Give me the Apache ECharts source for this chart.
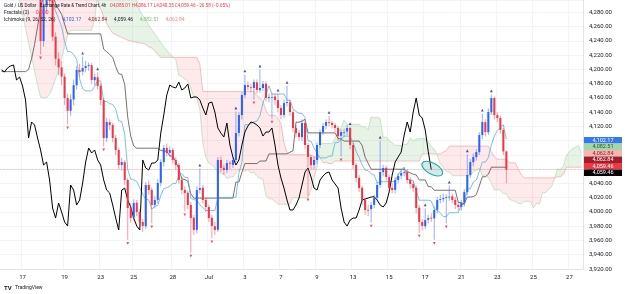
<!DOCTYPE html>
<html>
<head>
<meta charset="utf-8">
<script src="https://cdn.jsdelivr.net/npm/echarts@6/dist/echarts.min.js"></script>
<style>
html, body { margin: 0; padding: 0; background: #fff; }
#chart { width: 625px; height: 294px; }
</style>
</head>
<body>
<div id="chart"></div>
<script>
// 4h bars, one category slot per bar (194 slots incl. 25 future slots for the cloud)
var slotCount = 194;
var candleStart = 12; // first bar inside the visible price range

var opens = [
    4335, 4310, 4240, 4290, 4312, 4300, 4246, 4215, 4203, 4190, 4160, 4142, 4158,
    4178, 4199, 4197, 4202, 4205, 4206, 4185, 4189, 4177, 4157,
    4104, 4126, 4122, 4104, 4087, 4066, 4070, 4045, 4006, 3992,
    4013, 4000, 3986, 3980, 4038, 4031, 4010, 4017, 4041, 4070,
    4090, 4083, 4087, 4073, 4066, 4045, 4031, 4027, 4010, 3992,
    3975, 4031, 4034, 4017, 4007, 3992, 3980, 3975, 4073, 4062,
    4059, 4069, 4066, 4073, 4111, 4136, 4164, 4178, 4175, 4174,
    4182, 4171, 4174, 4180, 4160, 4161, 4162, 4157, 4146, 4136,
    4153, 4154, 4140, 4118, 4111, 4105, 4125, 4094, 4077, 4066,
    4073, 4094, 4112, 4121, 4126, 4125, 4122, 4118, 4107, 4112,
    4113, 4118, 4094, 4066, 4048, 4034, 4017, 4003, 4004, 4010,
    4020, 4038, 4056, 4062, 4049, 4034, 4031, 4045, 4051, 4055,
    4056, 4045, 4039, 4034, 4006, 3986, 3980, 3989, 3992, 3991,
    4003, 4017, 4018, 4020, 4021, 4022, 4017, 4010, 4007, 4013,
    4028, 4052, 4070, 4077, 4084, 4108, 4126, 4112, 4140, 4160,
    4136, 4132, 4115, 4085.01
];
var closes = [
    4310, 4240, 4290, 4312, 4296, 4246, 4215, 4203, 4190, 4160, 4142, 4158, 4178,
    4199.3, 4196.5, 4202.1, 4204.9, 4206.3, 4185.2, 4189.4, 4176.8, 4157.2, 4103.8,
    4126.3, 4122.1, 4103.8, 4087.0, 4065.9, 4070.1, 4044.9, 4005.6, 3991.5, 4012.6,
    4000.0, 3985.9, 3980.3, 4037.8, 4030.8, 4009.8, 4016.8, 4040.7, 4070.1, 4089.8,
    4082.8, 4087.0, 4073.0, 4065.9, 4044.9, 4030.8, 4026.6, 4009.8, 3991.5, 3974.7,
    4030.8, 4033.6, 4016.8, 4007.0, 3991.5, 3980.3, 3974.7, 4073.0, 4061.7, 4058.9,
    4068.7, 4068.7, 4073.0, 4110.8, 4136.1, 4164.2, 4178.2, 4175.4, 4174.0, 4182.4,
    4171.2, 4174.0, 4179.6, 4160.0, 4161.4, 4161.4, 4157.2, 4145.9, 4136.1, 4152.9,
    4154.3, 4140.3, 4117.9, 4110.8, 4105.2, 4124.9, 4094.0, 4077.2, 4065.9, 4073.0,
    4094.0, 4112.2, 4120.7, 4126.3, 4124.9, 4122.1, 4117.9, 4106.6, 4112.2, 4112.2,
    4117.9, 4094.0, 4065.9, 4047.7, 4033.6, 4016.8, 4002.8, 4002.8, 4009.8, 4019.6,
    4037.9, 4056.1, 4061.7, 4049.1, 4033.6, 4030.8, 4044.9, 4050.5, 4054.7, 4056.1,
    4044.9, 4039.3, 4033.6, 4005.6, 3985.9, 3980.3, 3988.7, 3991.5, 3991.5, 4002.8,
    4016.8, 4018.2, 4019.6, 4021.0, 4021.5, 4016.8, 4009.8, 4007.0, 4012.6, 4028.0,
    4051.9, 4070.1, 4077.2, 4084.2, 4108.0, 4126.3, 4112.2, 4140.3, 4160.0, 4136.1,
    4131.9, 4115.1, 4085.0, 4059.46
];
var highs = [
    4342, 4318, 4300, 4328, 4320, 4305, 4252, 4224, 4212, 4194, 4166, 4165, 4186,
    4205, 4208, 4218, 4212, 4210, 4209, 4194, 4196, 4180, 4160,
    4132, 4130, 4125, 4108, 4090, 4076, 4073, 4048, 4012, 4018,
    4017, 4004, 3990, 4042, 4044, 4034, 4022, 4046, 4074, 4094,
    4096, 4092, 4090, 4077, 4069, 4049, 4036, 4030, 4014, 3996,
    4036, 4061, 4038, 4020, 4010, 3996, 3986, 4077, 4078, 4066,
    4073, 4072, 4077, 4141, 4140, 4168, 4193, 4183, 4180, 4186,
    4186, 4200, 4184, 4183, 4166, 4166, 4166, 4166, 4150, 4158,
    4177, 4158, 4143, 4122, 4115, 4130, 4128, 4097, 4080, 4078,
    4098, 4116, 4125, 4130, 4135, 4128, 4125, 4121, 4116, 4117,
    4122, 4119, 4097, 4069, 4052, 4037, 4020, 4010, 4014, 4024,
    4042, 4100, 4066, 4065, 4052, 4040, 4049, 4055, 4060, 4062,
    4060, 4049, 4043, 4037, 4010, 3990, 4005, 3996, 3998, 4008,
    4021, 4024, 4026, 4025, 4037, 4026, 4021, 4014, 4017, 4032,
    4081, 4074, 4082, 4088, 4112, 4138, 4130, 4145, 4165, 4162,
    4140, 4135, 4118, 4086.17
];
var lows = [
    4302, 4221, 4232, 4282, 4288, 4240, 4206, 4192, 4178, 4150, 4123, 4135, 4150,
    4172, 4190, 4192, 4196, 4198, 4180, 4178, 4172, 4150, 4092,
    4098, 4115, 4098, 4080, 4060, 4058, 4038, 3961, 3985, 3988,
    3994, 3979, 3972, 3976, 4024, 3984, 4005, 4012, 4036, 4064,
    4078, 4078, 4068, 4060, 4040, 4025, 4001, 4004, 3943, 3968,
    3970, 4026, 4012, 4000, 3986, 3963, 3968, 3972, 4056, 4052,
    4055, 4060, 4062, 4070, 4106, 4130, 4160, 4170, 4168, 4158,
    4166, 4167, 4170, 4155, 4154, 4131, 4150, 4140, 4130, 4132,
    4148, 4135, 4112, 4105, 4100, 4100, 4088, 4022, 4060, 4060,
    4068, 4090, 4108, 4116, 4120, 4117, 4112, 4100, 4078, 4106,
    4108, 4088, 4060, 4042, 4028, 4010, 3996, 3994, 3985, 4005,
    4016, 4034, 4050, 4044, 4028, 4026, 4026, 4040, 4046, 4050,
    4040, 4033, 4028, 3998, 3971, 3974, 3976, 3984, 3986, 3961,
    3998, 4012, 4014, 3984, 4016, 4012, 4004, 4002, 4002, 4008,
    4024, 4048, 4064, 4072, 4080, 4102, 4106, 4108, 4136, 4130,
    4126, 4110, 4080, 4040.35
];

// Ichimoku (9, 26, 52, 26), read slot by slot
var tenkan = [
    4330, 4330, 4330, 4330, 4330, 4330, 4330, 4330, 4330, 4330, 4330, 4330,
    4340, 4299, 4299, 4299, 4299, 4293, 4282, 4271, 4260, 4239, 4225, 4225, 4221, 4214, 4187, 4173,
    4170, 4170, 4170, 4176, 4184, 4184, 4155, 4155, 4152, 4151, 4144.5, 4128, 4127, 4109,
    4060, 4046, 4045, 4043, 4034, 4025, 4018, 4017, 4004, 4008, 4009, 4023, 4033, 4034,
    4036, 4040, 4040, 4050.5, 4054, 4048.5, 4048.5, 4019.5, 4017.5, 4016.5, 4010, 4006,
    4002, 4002, 4002, 4002, 4020, 4020.5, 4020.5, 4020.5, 4020.5, 4020.5, 4020.5,
    4054.5, 4070, 4122.5, 4122.5, 4124, 4126.5, 4127.5, 4135, 4153, 4165, 4177,
    4165.5, 4165.5, 4165.5, 4165.5, 4165.5, 4157, 4156.5, 4144.5, 4141, 4138.5, 4138.5,
    4132.5, 4099.5, 4099.5, 4090, 4082.5, 4076, 4076, 4076, 4078.5, 4078.5,
    4097.5, 4097.5, 4101.5, 4106.5, 4106.5, 4106.5, 4097.5, 4085, 4076.5, 4066,
    4059, 4058, 4053.5, 4052, 4041, 4042.5, 4042.5, 4042.5, 4042.5, 4042.5, 4042.5,
    4052.5, 4058, 4063, 4046, 4045.5, 4044, 4030, 4016.5, 4016.5, 4016.5, 4016.5,
    4015.5, 4005, 4002, 3999, 3993.5, 3993.5, 3999, 3999, 3999, 3999,
    4010.5, 4010.5, 4032.5, 4032.5, 4042, 4045, 4057, 4070, 4070, 4076.5,
    4094.5, 4106.5, 4114.5, 4118.5, 4122.5, 4102.17
];
var kijun = [
    4197, 4197, 4197, 4197, 4197, 4197, 4197, 4197, 4197,
    4200, 4215, 4235, 4260, 4285, 4305, 4320, 4320, 4308, 4291.5, 4284.5, 4277.5, 4263.5,
    4250, 4250, 4250, 4250, 4250, 4250, 4250, 4250, 4250, 4250, 4250, 4250,
    4228.5, 4225, 4221, 4217, 4204, 4194, 4193, 4179, 4133, 4106.5, 4092.5,
    4089.5, 4089.5, 4089.5, 4089.5, 4089.5, 4089.5, 4089.5, 4089.5,
    4086.5, 4085.5, 4085, 4078.5, 4078.5, 4070.5, 4060.5, 4046.5, 4045.5, 4043, 4025.5,
    4019.5, 4019.5, 4019.5, 4019.5, 4019.5, 4019.5, 4019.5, 4019.5, 4019.5, 4019.5,
    4019.5, 4019.5, 4019.5, 4019.5,
    4042, 4042, 4055.5, 4068, 4068, 4068, 4068, 4068, 4071.5, 4071.5, 4071.5,
    4081.5, 4081.5, 4081.5, 4081.5, 4081.5, 4081.5, 4081.5,
    4084, 4086, 4126, 4126, 4127.5, 4130,
    4111, 4111, 4111, 4111, 4111, 4111, 4111, 4111, 4111, 4111,
    4103, 4102.5, 4099.5, 4099.5, 4099.5, 4099.5, 4099.5, 4099.5,
    4093.5, 4077, 4068.5,
    4060, 4060, 4060, 4060, 4060, 4060, 4060, 4060, 4060, 4060, 4060, 4060,
    4056.5, 4055, 4053, 4052, 4045, 4045, 4045, 4035.5, 4035.5,
    4030.5, 4030.5, 4030.5, 4030.5, 4030.5, 4030.5, 4030.5, 4030.5,
    4013.5, 4013, 4011.5, 4021, 4021, 4021.5, 4024.5, 4036.5, 4049.5, 4049.5, 4053,
    4062.84, 4062.84, 4062.84, 4062.84, 4062.84, 4062.84
];
// leading spans, already shifted forward onto their slots
var spanA = [
    4320, 4320, 4320, 4320, 4320, 4320,
    4297, 4278, 4258, 4238, 4218, 4198, 4178, 4161, 4160, 4160, 4165, 4175, 4187, 4199, 4216, 4232, 4248,
    4255, 4255, 4255, 4255, 4255, 4255, 4255, 4255, 4270, 4305,
    4320, 4320, 4320, 4320, 4320, 4320, 4320, 4320, 4320, 4320, 4320, 4320,
    4297, 4283, 4276, 4270, 4262, 4256, 4250, 4244, 4238, 4232, 4227, 4222, 4218, 4214,
    4192, 4190, 4186.5, 4184, 4174, 4161, 4160, 4144,
    4096.5, 4076, 4069, 4066, 4062, 4057, 4054, 4053, 4047, 4049, 4049, 4055, 4059, 4060,
    4057, 4059, 4055, 4055.5, 4050, 4047, 4046, 4022.5, 4018.5, 4018, 4015,
    4011, 4011, 4011, 4011, 4011, 4020, 4020, 4020, 4020, 4020, 4020,
    4031, 4048, 4063, 4095, 4096, 4096, 4096, 4096, 4103, 4112, 4118, 4129,
    4123, 4123, 4123, 4123, 4123, 4119, 4120, 4115, 4133.5, 4132, 4133, 4131, 4105, 4105, 4100.5, 4097,
    4093.5, 4093.5, 4093.5, 4095, 4095, 4104, 4100, 4102, 4103, 4103, 4103,
    4098.5, 4092, 4088, 4080, 4068, 4063, 4057, 4056,
    4051, 4051, 4051, 4051, 4051, 4051, 4051,
    4056, 4059, 4061.5, 4051, 4050, 4048.5, 4041, 4031, 4031, 4031,
    4025.5, 4025.5, 4018, 4016, 4015, 4012, 4012, 4015, 4015, 4015,
    4006, 4012, 4011, 4027, 4027, 4032, 4035, 4047, 4060, 4060, 4065, 4079, 4085, 4089, 4091, 4093, 4082.51
];
var spanB = [
    4330, 4330, 4330, 4330, 4330, 4330, 4330, 4330, 4330, 4330, 4330, 4330, 4330, 4330, 4330, 4330,
    4330, 4330, 4330, 4330, 4330, 4330, 4330, 4330, 4330, 4330, 4330, 4330, 4330, 4330, 4330, 4330,
    4297, 4285, 4274, 4265, 4257, 4251, 4249, 4247, 4245, 4243, 4241, 4240, 4239, 4238, 4237, 4237,
    4235, 4232, 4230, 4226, 4221,
    4217, 4217, 4217, 4217, 4217, 4217, 4217, 4217, 4217, 4217, 4217, 4217, 4217, 4207.5,
    4169, 4169, 4169, 4169, 4169, 4169, 4169, 4169, 4169, 4169, 4169, 4169, 4169, 4169, 4169, 4169, 4169, 4169,
    4163, 4160, 4155, 4142.5, 4135.5, 4135.5, 4135.5, 4131.5, 4124, 4097.5, 4083.5,
    4080.5, 4080.5, 4080.5, 4080.5, 4080.5, 4080.5, 4080.5, 4080.5,
    4077.5, 4076.5, 4076, 4069.5, 4069.5, 4068, 4068,
    4071.5, 4071.5, 4071.5, 4071.5, 4071.5, 4071.5, 4071.5, 4071.5, 4071.5, 4071.5,
    4071.5, 4071.5, 4071.5, 4071.5, 4071.5, 4071.5, 4071.5, 4071.5, 4071.5, 4071.5,
    4071.5, 4071.5, 4071.5, 4071.5, 4071.5, 4071.5, 4071.5, 4071.5, 4071.5,
    4081.5, 4081.5, 4081.5, 4081.5, 4081.5, 4081.5, 4081.5, 4084, 4086,
    4092.5, 4092.5, 4092.5, 4092.5, 4092.5, 4092.5, 4092.5, 4092.5, 4092.5, 4092.5, 4092.5, 4092.5, 4092.5, 4092.5,
    4084.5, 4077.5, 4074, 4074, 4074, 4074, 4069, 4069, 4069, 4059.5, 4052,
    4048, 4048, 4048, 4048, 4048, 4048, 4048, 4048, 4048, 4048, 4048,
    4049.5, 4049.5, 4053, 4062.84, 4062.84, 4062.84, 4062.84, 4062.84, 4062.84
];
var chikouShift = 25;

// Williams fractals
var fractalUpSlot = [27, 32, 66, 78, 81, 86, 92, 95, 109, 116, 126, 141, 149, 155, 160, 163];
var fractalUpValue = [4218, 4196, 4061, 4141, 4193, 4200, 4166, 4177, 4135, 4119, 4100, 4005, 4037, 4081, 4138, 4165];
var fractalDownSlot = [13, 22, 34, 42, 50, 61, 63, 70, 84, 90, 102, 113, 123, 139, 144, 148];
var fractalDownValue = [4221, 4123, 4092, 3961, 3984, 4001, 3943, 3963, 4158, 4131, 4022, 4078, 3985, 3971, 3961, 3984];

var tickSlots = [7, 21, 33, 44, 57, 69, 81, 93, 105, 117, 129, 141, 153, 165, 177, 189];
var tickLabels = ['17', '19', '23', '25', '28', 'Jul', '3', '7', '9', '13', '15', '17', '21', '23', '25', '27'];

var upColor = '#2962ff', downColor = '#f23645';
var upWick = 'rgba(41,98,255,0.5)', downWick = 'rgba(242,54,69,0.5)';
var font = 'Roboto, "Liberation Sans", sans-serif';

function fmt(v) {
    var p = v.toFixed(2).split('.');
    p[0] = p[0].replace(/\B(?=(\d{3})+(?!\d))/g, ',');
    return p.join('.');
}

var categories = [];
var labelMap = {};
for (var i = 0; i < slotCount; i++) categories.push(String(i));
tickSlots.forEach(function (s, k) { labelMap[s] = tickLabels[k]; });

var candleData = opens.map(function (o, k) {
    return [k + candleStart, o, closes[k], lows[k], highs[k]];
});
var chikou = [];
for (var k = 0; k + chikouShift - candleStart < closes.length; k++) {
    chikou.push(k + chikouShift - candleStart >= 0 ? closes[k + chikouShift - candleStart] : '-');
}
var cloudData = spanA.map(function (a, i) { return [i, a, spanB[i]]; });

function cloudRender(params, api) {
    if (params.dataIndex !== 0) return null;
    var children = [];
    var runA = [], runB = [], runSign = null;
    function flush() {
        if (runA.length > 1) {
            children.push({
                type: 'polygon',
                shape: { points: runA.concat(runB.slice().reverse()) },
                style: { fill: runSign > 0 ? 'rgba(67,160,71,0.13)' : 'rgba(242,54,69,0.11)' },
                silent: true
            });
        }
    }
    for (var i = 0; i < spanA.length; i++) {
        var pa = api.coord([i, spanA[i]]), pb = api.coord([i, spanB[i]]);
        var d = spanA[i] - spanB[i];
        var s = d >= 0 ? 1 : -1;
        if (runSign === null) { runSign = s; runA.push(pa); runB.push(pb); continue; }
        if (s !== runSign) {
            var dPrev = spanA[i - 1] - spanB[i - 1];
            var f = dPrev / (dPrev - d);
            var qa = runA[runA.length - 1];
            var c = [qa[0] + f * (pa[0] - qa[0]), qa[1] + f * (pa[1] - qa[1])];
            runA.push(c); runB.push(c);
            flush();
            runA = [c]; runB = [c]; runSign = s;
        }
        runA.push(pa); runB.push(pb);
    }
    flush();
    return { type: 'group', children: children };
}

function candleRender(params, api) {
    var s = api.value(0), o = api.value(1), c = api.value(2), l = api.value(3), h = api.value(4);
    var top = api.coord([s, h]), bot = api.coord([s, l]);
    var po = api.coord([s, o]), pc = api.coord([s, c]);
    var w = api.size([1, 0])[0] * 0.68;
    var up = c >= o;
    var y0 = Math.min(po[1], pc[1]);
    var bh = Math.max(Math.abs(po[1] - pc[1]), 0.8);
    return {
        type: 'group',
        children: [
            { type: 'line', shape: { x1: top[0], y1: top[1], x2: bot[0], y2: bot[1] },
              style: { stroke: up ? upWick : downWick, lineWidth: 1 } },
            { type: 'rect', shape: { x: po[0] - w / 2, y: y0, width: w, height: bh },
              style: { fill: up ? upColor : downColor } }
        ]
    };
}

var myChart = echarts.init(document.getElementById('chart'));

myChart.setOption({
    animation: false,
    backgroundColor: '#ffffff',
    grid: { left: 0, right: 42, top: 0, bottom: 25 },
    xAxis: {
        type: 'category',
        data: categories,
        boundaryGap: true,
        axisLine: { lineStyle: { color: '#e0e3eb' } },
        axisTick: { show: false },
        axisLabel: {
            interval: function (idx) { return labelMap[idx] !== undefined; },
            formatter: function (v, idx) { return labelMap[idx] || ''; },
            fontSize: 6,
            fontFamily: font,
            color: '#131722',
            margin: 5
        },
        splitLine: {
            show: true,
            interval: function (idx) { return labelMap[idx] !== undefined; },
            lineStyle: { color: '#f3f4f7', width: 1 }
        }
    },
    yAxis: {
        type: 'value',
        position: 'right',
        min: 3920,
        max: 4297.5,
        interval: 20,
        axisLine: { show: true, lineStyle: { color: '#e0e3eb' } },
        axisTick: { show: false },
        axisLabel: {
            formatter: function (v) { return fmt(v); },
            fontSize: 6,
            fontFamily: font,
            color: '#131722',
            margin: 6,
            showMaxLabel: false
        },
        splitLine: { lineStyle: { color: '#f3f4f7', width: 1 } }
    },
    series: [
        {
            name: 'cloud',
            type: 'custom',
            renderItem: cloudRender,
            data: cloudData,
            encode: { x: 0, y: 1 },
            clip: true,
            silent: true,
            z: 1
        },
        {
            name: 'Leading Span A',
            type: 'line',
            data: spanA,
            showSymbol: false,
            lineStyle: { color: '#a5d6a7', width: 0.6 },
            silent: true,
            z: 2
        },
        {
            name: 'Leading Span B',
            type: 'line',
            data: spanB,
            showSymbol: false,
            lineStyle: { color: '#ef9a9a', width: 0.6 },
            silent: true,
            z: 2
        },
        {
            name: 'Base Line',
            type: 'line',
            data: kijun,
            showSymbol: false,
            lineStyle: { color: '#5a4a4a', width: 0.8 },
            silent: true,
            z: 3
        },
        {
            name: 'Conversion Line',
            type: 'line',
            data: tenkan,
            showSymbol: false,
            lineStyle: { color: '#5ab4cf', width: 0.8 },
            silent: true,
            z: 3
        },
        {
            name: 'Lagging Span',
            type: 'line',
            data: chikou,
            showSymbol: false,
            lineStyle: { color: '#000000', width: 1 },
            silent: true,
            z: 4,
            markLine: {
                silent: true,
                symbol: 'none',
                label: { show: false },
                lineStyle: { color: 'rgba(242,54,69,0.45)', type: 'dotted', width: 0.7 },
                data: [{ yAxis: closes[closes.length - 1] }]
            }
        },
        {
            name: 'XAUUSD',
            type: 'custom',
            renderItem: candleRender,
            data: candleData,
            encode: { x: 0, y: [1, 2, 3, 4] },
            clip: true,
            silent: true,
            z: 5
        },
        {
            name: 'Up fractals',
            type: 'scatter',
            data: fractalUpSlot.map(function (s, k) { return [s, fractalUpValue[k]]; }),
            symbol: 'triangle',
            symbolSize: 2.8,
            symbolOffset: [0, -3.5],
            itemStyle: { color: '#1f2a6b' },
            silent: true,
            z: 6
        },
        {
            name: 'Down fractals',
            type: 'scatter',
            data: fractalDownSlot.map(function (s, k) { return [s, fractalDownValue[k]]; }),
            symbol: 'path://M0,0L10,0L5,9Z',
            symbolSize: 2.8,
            symbolOffset: [0, 3.5],
            itemStyle: { color: '#e0293b' },
            silent: true,
            z: 6
        }
    ]
});

// legend texts, price tags and the drawn ellipse
var lastClose = closes[closes.length - 1];
var tags = [
    { v: tenkan[tenkan.length - 1], bg: '#3179f5', fg: '#ffffff' },
    { v: spanA[spanA.length - 1], bg: '#a5d6a7', fg: '#1b5e20' },
    { v: spanB[spanB.length - 1], bg: '#f5b5b5', fg: '#8e1c1c' },
    { v: kijun[kijun.length - 1], bg: '#9c1f2a', fg: '#ffffff' },
    { v: lastClose, bg: '#f23645', fg: '#ffffff' },
    { v: chikou[chikou.length - 1], bg: '#000000', fg: '#ffffff' }
];
var elements = [];
tags.forEach(function (t, k) {
    var top = 137 + k * 6.5;
    elements.push({
        type: 'rect', z: 100,
        shape: { x: 584, y: top, width: 38, height: 6.5 },
        style: { fill: t.bg }
    });
    elements.push({
        type: 'text', z: 101,
        x: 603, y: top + 3.4,
        style: { text: fmt(t.v), fill: t.fg, fontSize: 5.5, fontFamily: font, align: 'center', verticalAlign: 'middle' }
    });
});

elements.push({
    type: 'text', z: 101, x: 4, y: 6,
    style: {
        text: '{t|Gold / US Dollar · Exchange Rate & Trend Chart, 4h} {r|O4,085.01 H4,086.17 L4,040.35 C4,059.46 −26.58 (−0.65%)}',
        verticalAlign: 'middle',
        rich: {
            t: { fontSize: 4.6, fontFamily: font, fill: '#131722' },
            r: { fontSize: 4.6, fontFamily: font, fill: '#f23645' }
        }
    }
});
elements.push({
    type: 'text', z: 101, x: 4, y: 13,
    style: {
        text: '{t|Fractals (2)}  {r|0.000}',
        verticalAlign: 'middle',
        rich: {
            t: { fontSize: 5, fontFamily: font, fill: '#131722' },
            r: { fontSize: 5, fontFamily: font, fill: '#f23645' }
        }
    }
});
elements.push({
    type: 'text', z: 101, x: 4, y: 20,
    style: {
        text: '{t|Ichimoku (9, 26, 52, 26)}  {b|' + fmt(tenkan[tenkan.length - 1]) + '}  {k|' + fmt(kijun[kijun.length - 1]) +
              '}  {c|' + fmt(lastClose) + '}  {g|' + fmt(spanA[spanA.length - 1]) + '}  {p|' + fmt(spanB[spanB.length - 1]) + '}',
        verticalAlign: 'middle',
        rich: {
            t: { fontSize: 5, fontFamily: font, fill: '#131722' },
            b: { fontSize: 5, fontFamily: font, fill: '#2962ff' },
            k: { fontSize: 5, fontFamily: font, fill: '#9c1f2a' },
            c: { fontSize: 5, fontFamily: font, fill: '#131722' },
            g: { fontSize: 5, fontFamily: font, fill: '#7cbf80' },
            p: { fontSize: 5, fontFamily: font, fill: '#ef8a8a' }
        }
    }
});
elements.push({
    type: 'text', z: 101, x: 4, y: 288,
    style: {
        text: '{l|TV} {t|TradingView}',
        verticalAlign: 'middle',
        rich: {
            l: { fontSize: 6, fontWeight: 'bold', fontFamily: font, fill: '#131722' },
            t: { fontSize: 5, fontFamily: font, fill: '#131722' }
        }
    }
});

var chikouEnd = myChart.convertToPixel({ gridIndex: 0 }, [chikou.length - 1, chikou[chikou.length - 1]]);
elements.push({
    type: 'ellipse', z: 90,
    x: chikouEnd[0] + 1, y: chikouEnd[1] - 1,
    rotation: -0.5,
    shape: { cx: 0, cy: 0, rx: 11.5, ry: 5.5 },
    style: { fill: 'rgba(38,166,154,0.22)', stroke: '#26a69a', lineWidth: 1 }
});

myChart.setOption({ graphic: { elements: elements } });
</script>
</body>
</html>
